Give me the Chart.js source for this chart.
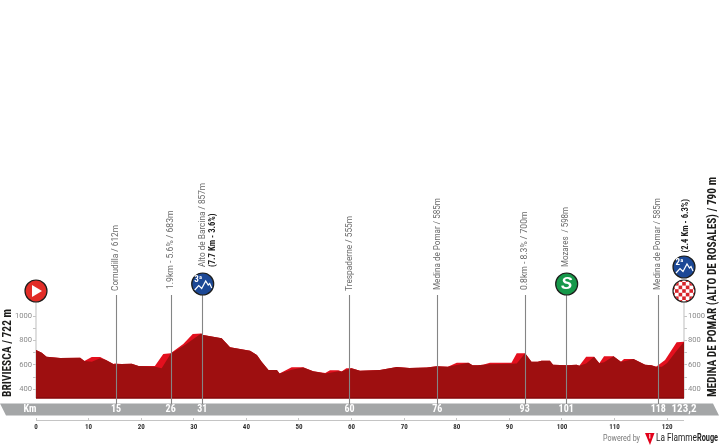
<!DOCTYPE html>
<html>
<head>
<meta charset="utf-8">
<style>html,body{margin:0;padding:0;background:#fff}canvas{display:block}</style>
<script src="https://cdn.jsdelivr.net/npm/chart.js@4"></script>
</head>
<body>
<canvas id="c" width="720" height="447"></canvas>
<script>
const climbKm   = [0,1.1,2,4.6,8.4,9.2,10.6,12.2,13.3,14.7,15,16.3,18.2,19.5,22.6,24.2,25.6,28,29.8,31.4,31.8,35.3,36.9,40.7,42,42.9,44.2,45.8,46.3,48.6,50.8,52.7,55,55.9,57.5,58.1,59,60,61.6,65.4,68.6,71,74.3,76.2,78.3,80,82.2,83,84,85,86.3,90.4,91.4,93,94.2,95.4,96.1,97.7,98.3,100.9,102.8,103.3,104.6,106.1,107.1,108,109.8,111.2,111.8,113.6,115.8,117,117.9,119.6,121.8,123.2];
const climbElev = [722,700,667,656,659,631,664,664,640,607,612,607,610,590,590,689,695,770,852,857,845,817,744,716,680,626,558,558,530,580,580,547,533,555,555,545,572,572,552,558,583,575,578,588,585,617,617,596,596,601,617,617,695,695,626,625,634,634,600,596,600,592,667,667,613,670,670,626,648,648,601,596,585,640,785,790];
const baseKm    = [0,1.1,2,4.6,8.4,9.2,10.6,12.2,13.3,14.7,15,16.3,18.2,19.5,22.6,23.9,25.6,28.3,31.4,31.8,35.3,36.9,40.7,42,42.9,44.2,45.8,46.3,48.6,50.8,52.7,55,55.9,57.5,58.1,59,60,61.6,65.4,68.6,71,74.3,76.2,78.3,80,82.2,83,84,85,86.3,90.4,91.4,93,94.2,95.4,96.1,97.7,98.3,100.9,102.8,103.3,104.6,106.1,107.1,108,109.8,111.2,111.8,113.6,115.8,117,117.9,119,120,121.8,123.2];
const baseElev  = [722,700,667,656,659,631,625,655,640,607,606,607,610,590,585,572,690,762,857,845,817,744,716,680,626,558,558,530,560,578,547,530,535,548,545,560,572,552,558,583,575,578,588,585,598,617,596,596,601,606,610,612,695,626,625,634,634,600,596,600,592,612,667,613,622,670,626,630,648,601,596,585,585,615,715,790];
const yTicks    = [400,500,600,700,800,900,1000];
const xTicks    = [0,10,20,30,40,50,60,70,80,90,100,110,120];
const passKm    = [15.2,25.6,31.6,59.6,76.3,92.9,100.8,118.3];
const bandLabels= ['15','26','31','60','76','93','101','118','123,2'];
const bandKm    = [15.2,25.6,31.6,59.6,76.3,92.9,100.8,118.3,123.2];
const passText  = ['Cornudilla / 612m','1.9km - 5.6% / 683m','Alto de Barcina / 857m','Trespaderne / 555m','Medina de Pomar / 585m','0.8km - 8.3% / 700m','Mozares  / 598m','Medina de Pomar / 585m'];
const startTitle= 'BRIVIESCA / 722 m';
const finishTitle='MEDINA DE POMAR (ALTO DE ROSALES) / 790 m';

const NARROW = '"Liberation Sans Narrow","Roboto Condensed","Liberation Sans",sans-serif';
const SANS = 'Roboto,"Liberation Sans",sans-serif';

function pairs(a,b){return a.map((k,i)=>({x:k,y:b[i]}));}

function rotText(ctx,t,x,bottom,len,font,color){
  ctx.save();ctx.translate(x,bottom);ctx.rotate(-Math.PI/2);
  ctx.font=font;ctx.fillStyle=color;ctx.textAlign='left';ctx.textBaseline='middle';
  ctx.fillText(t,0,0,len);ctx.restore();
}
function disc(ctx,x,y,r,fill){
  ctx.beginPath();ctx.arc(x,y,r,0,Math.PI*2);ctx.fillStyle=fill;ctx.fill();
  ctx.lineWidth=1.2;ctx.strokeStyle='#1d1d1b';ctx.stroke();
}
function climbIcon(ctx,x,y,cat){
  disc(ctx,x,y,11,'#1c4896');
  ctx.fillStyle='#fff';ctx.font='bold 9px '+NARROW;ctx.textAlign='center';ctx.textBaseline='middle';
  ctx.fillText(cat,x-4.5,y-4.5);
  ctx.strokeStyle='#fff';ctx.lineWidth=1.2;ctx.beginPath();
  ctx.moveTo(x-8,y+6);ctx.lineTo(x-4,y+1.5);ctx.lineTo(x-1,y+4.5);ctx.lineTo(x+3,y-3);ctx.lineTo(x+5.5,y+1);ctx.lineTo(x+7,y-0.5);ctx.lineTo(x+9,y+4);ctx.stroke();
}
function checker(ctx,x,y,r){
  disc(ctx,x,y,r,'#fff');
  ctx.save();ctx.beginPath();ctx.arc(x,y,r-0.6,0,Math.PI*2);ctx.clip();
  const s=3.6;ctx.fillStyle='#d8232a';
  for(let i=-4;i<=4;i++)for(let j=-4;j<=4;j++){if((i+j)%2===0)ctx.fillRect(x+i*s-s/2,y+j*s-s/2,s,s);}
  ctx.restore();
}

const decor={
  id:'decor',
  beforeDatasetsDraw(chart){
    const ctx=chart.ctx,xs=chart.scales.x;
    ctx.save();
    ctx.strokeStyle='#c9c9c9';ctx.lineWidth=1.2;
    [0,123.2].forEach(k=>{const p=xs.getPixelForValue(k);ctx.beginPath();ctx.moveTo(p,300);ctx.lineTo(p,398);ctx.stroke();});
    ctx.restore();
  },
  afterDatasetsDraw(chart){
    const ctx=chart.ctx,xs=chart.scales.x;
    ctx.save();
    ctx.fillStyle='#7f0b0d';
    ctx.fillRect(xs.getPixelForValue(0),397.4,xs.getPixelForValue(123.2)-xs.getPixelForValue(0),1.2);
    ctx.fillStyle='#a4a6a7';ctx.beginPath();
    ctx.moveTo(0,403.5);ctx.lineTo(713,403.5);ctx.lineTo(719,415.5);ctx.lineTo(6,415.5);ctx.closePath();ctx.fill();
    ctx.strokeStyle='#858585';ctx.lineWidth=1.1;
    passKm.forEach(k=>{const p=Math.round(xs.getPixelForValue(k))+0.5;ctx.beginPath();ctx.moveTo(p,295);ctx.lineTo(p,404);ctx.stroke();});
    ctx.fillStyle='#fff';ctx.textAlign='center';ctx.textBaseline='middle';
    ctx.font='bold 10px '+NARROW;
    ctx.fillText('Km',30,409.5);
    bandKm.forEach((k,i)=>{ctx.font=(i===8?'bold 11px ':'bold 10px ')+NARROW;ctx.fillText(bandLabels[i],xs.getPixelForValue(k),409.5);});
    ctx.strokeStyle='#c4c4c4';ctx.lineWidth=1;ctx.beginPath();ctx.moveTo(36,420.5);ctx.lineTo(684,420.5);ctx.stroke();
    const tc='#6b6b6b',tf='400 8.6px '+SANS;
    rotText(ctx,passText[0],115.5,291,66,tf,tc);
    rotText(ctx,passText[1],170.5,289,79,tf,tc);
    rotText(ctx,passText[2],202.5,267,84,tf,tc);
    rotText(ctx,'(7.7 Km - 3.6%)',212.5,267,55,'bold 8.6px '+NARROW,'#222');
    rotText(ctx,passText[3],349.5,291,75,tf,tc);
    rotText(ctx,passText[4],437.5,290,92,tf,tc);
    rotText(ctx,passText[5],524.5,290,81,tf,tc);
    rotText(ctx,passText[6],566,267,60,tf,tc);
    rotText(ctx,passText[7],658,290,92,tf,tc);
    rotText(ctx,'(2.4 Km - 6.3%)',686,252.5,55,'bold 8.6px '+NARROW,'#222');
    rotText(ctx,startTitle,8,397,88,'bold 12.5px '+NARROW,'#1d1d1b');
    rotText(ctx,finishTitle,712.5,397,220,'bold 12.5px '+NARROW,'#1d1d1b');
    disc(ctx,36,291,11,'#e22d27');
    ctx.fillStyle='#fff';ctx.beginPath();ctx.moveTo(32,285);ctx.lineTo(42,291);ctx.lineTo(32,297);ctx.closePath();ctx.fill();
    climbIcon(ctx,xs.getPixelForValue(passKm[2])+0.5,284,'3ª');
    const sx=xs.getPixelForValue(passKm[6])+0.5;
    disc(ctx,sx,284,11,'#16984a');
    ctx.fillStyle='#fff';ctx.font='italic bold 17px "Liberation Sans",sans-serif';ctx.textAlign='center';ctx.textBaseline='middle';ctx.fillText('S',sx,284.5);
    climbIcon(ctx,684,267,'2ª');
    checker(ctx,684,291,11);
    ctx.textBaseline='middle';ctx.textAlign='left';
    ctx.fillStyle='#777';ctx.font='400 9.4px '+SANS;ctx.fillText('Powered by',603,438.5,37);
    ctx.fillStyle='#e2001a';ctx.beginPath();ctx.moveTo(645,433);ctx.lineTo(654.5,433);ctx.lineTo(650,445);ctx.closePath();ctx.fill();
    ctx.fillStyle='#fff';ctx.fillRect(649.3,434,1,4.5);
    ctx.fillStyle='#222';ctx.font='400 11px '+SANS;ctx.fillText('La Flamme',656,438.5,41);
    ctx.font='700 11px '+SANS;ctx.fillText('Rouge',697,438.5,21);
    ctx.restore();
  }
};

function yAxis(pos){
  return {
    type:'linear',position:pos,min:165,max:1000,
    afterBuildTicks(s){s.ticks=yTicks.map(v=>({value:v}));},
    afterFit(s){s.width=36;},
    border:{display:false},
    grid:{drawOnChartArea:false,drawTicks:true,tickLength:3,color:'#c4c4c4',lineWidth:1},
    ticks:{padding:1,color:'#8a8a8a',font:{family:SANS,size:7.6},
      callback:v=>v%200===0?String(v):''}
  };
}

new Chart(document.getElementById('c'),{
  type:'line',
  data:{datasets:[
    {label:'profile',data:pairs(baseKm,baseElev),order:1,borderWidth:0,pointRadius:0,tension:0,fill:{value:326},backgroundColor:'#9e0f10'},
    {label:'climbs',data:pairs(climbKm,climbElev),order:2,borderWidth:0,pointRadius:0,tension:0,fill:{value:326},backgroundColor:'#e3101e'}
  ]},
  options:{
    responsive:false,animation:false,
    layout:{padding:{top:316,left:0,right:0,bottom:0}},
    plugins:{legend:{display:false},title:{display:false},tooltip:{enabled:false}},
    scales:{
      x:{type:'linear',min:0,max:123.2,
        afterBuildTicks(s){s.ticks=xTicks.map(v=>({value:v}));},
        afterFit(s){s.height=29;},
        border:{display:false},
        grid:{drawOnChartArea:false,drawTicks:true,tickLength:3,color:'#c4c4c4'},
        ticks:{maxRotation:0,autoSkip:false,padding:2,color:'#333',font:{family:NARROW,size:7,weight:'bold'}}},
      y:yAxis('left'),
      y2:yAxis('right')
    }
  },
  plugins:[decor]
});
</script>
</body>
</html>
